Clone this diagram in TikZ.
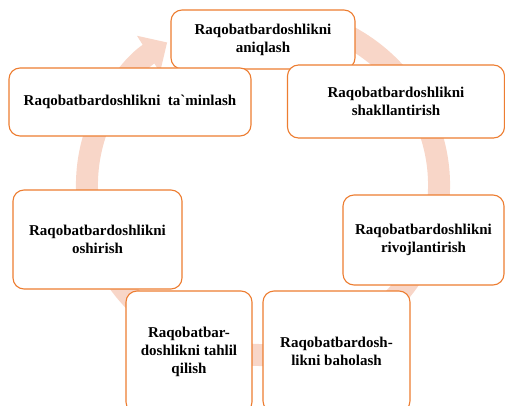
\documentclass[tikz,border=0pt]{standalone}
\usepackage{fontspec}
\setmainfont{Liberation Serif}
\usepackage{tikz}
\usetikzlibrary{arrows.meta}
\definecolor{boxorange}{RGB}{237,125,49}
\definecolor{ringpink}{RGB}{248,214,200}
\tikzset{blok/.style={draw=boxorange,line width=1.1pt,fill=white,rounded corners=11pt,align=center,inner sep=0pt}}
\begin{document}
\begin{tikzpicture}[x=1pt,y=1pt,font=\bfseries\fontsize{15}{18}\selectfont]
\useasboundingbox (0,0) rectangle (505,405);
\clip (0,0) rectangle (505,405);
% --- background cycle arrow
\draw[ringpink,line width=22pt,-{Triangle[width=42pt,length=22pt]}] (263,220) ++(70:176 and 170) arc[start angle=70,end angle=-237,x radius=176,y radius=170];
% --- boxes
\node[blok,minimum width=184,minimum height=59] (aniq) at (263,365.5) {Raqobatbardoshlikni\\aniqlash};
\node[blok,minimum width=242,minimum height=68] (taminl) at (130,303) {Raqobatbardoshlikni\ \ ta\textasciigrave minlash};
\node[blok,minimum width=217,minimum height=73] (shakl) at (396,303.5) {Raqobatbardoshlikni\\shakllantirish};
\node[blok,minimum width=169,minimum height=99] (oshir) at (97.5,165.5) {Raqobatbardoshlikni\\oshirish};
\node[blok,minimum width=161,minimum height=90] (rivoj) at (423.5,165) {Raqobatbardoshlikni\\rivojlantirish};
\node[blok,minimum width=126,minimum height=122] (tahlil) at (189,53) {Raqobatbar-\\doshlikni tahlil\\qilish};
\node[blok,minimum width=147,minimum height=121] (baho) at (336.5,53.5) {Raqobatbardosh-\\likni baholash};
\end{tikzpicture}
\end{document}
